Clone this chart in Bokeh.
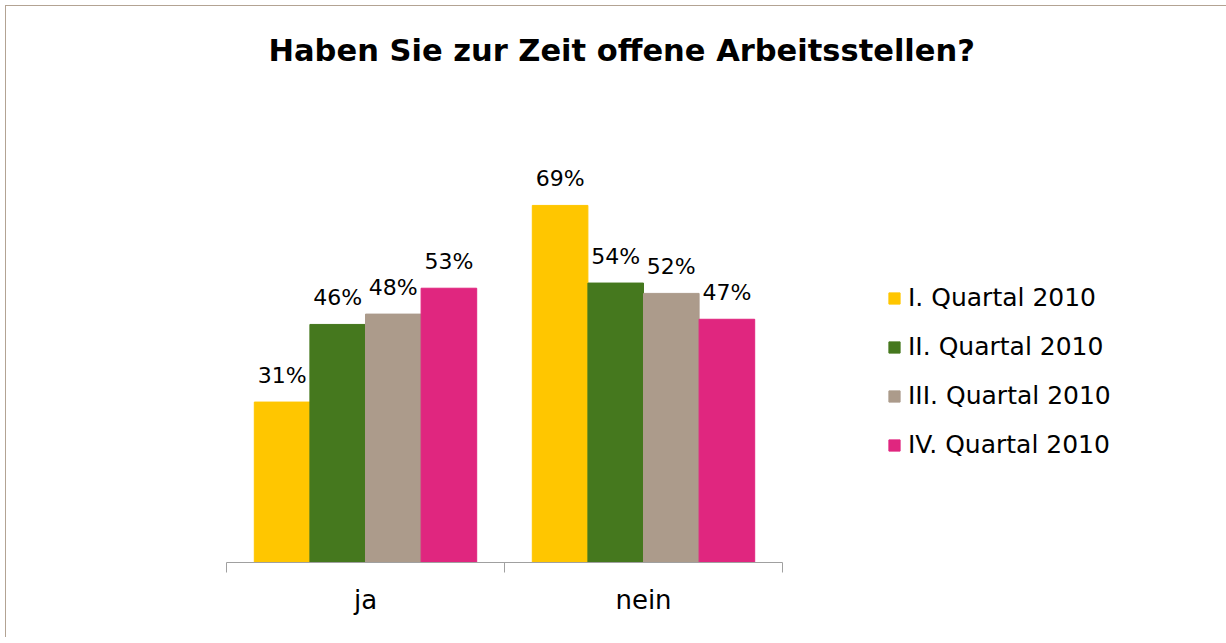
from bokeh.plotting import figure
from bokeh.models import (Range1d, ColumnDataSource, LinearAxis, FixedTicker, Legend, LegendItem, Title)
from bokeh.transform import dodge
from bokeh.core.properties import value
from bokeh.embed import file_html
from bokeh.resources import INLINE

title_text = "Haben Sie zur Zeit offene Arbeitsstellen?"
categories = ["ja", "nein"]
series_names = ["I. Quartal 2010", "II. Quartal 2010", "III. Quartal 2010", "IV. Quartal 2010"]
q1 = [31, 69]
q2 = [46, 54]
q3 = [48, 52]
q4 = [53, 47]
series_values = [q1, q2, q3, q4]
colors = ["#FFC600", "#45781E", "#AC9B8B", "#E0267F"]

FONT = "DejaVu Sans"

n = len(categories)
centers = [i + 0.5 for i in range(n)]

p = figure(x_range=Range1d(0, n), y_range=Range1d(0, 80),
           frame_width=556, frame_height=414,
           output_backend="svg", toolbar_location=None,
           x_axis_location=None, y_axis_location=None,
           min_border_left=220, min_border_top=142, min_border_bottom=75, min_border_right=10)
p.styles = {"border-top": "1px solid #B3A393", "border-left": "1px solid #B3A393",
            "margin-left": "5px", "margin-top": "5px"}
p.grid.visible = False
p.outline_line_color = None
p.background_fill_color = "white"
p.border_fill_color = "white"

# empty spacer between the frame and the title
p.add_layout(Title(text=" ", text_font_size="1px", standoff=56), "above")

p.title.text = title_text
p.title.text_font = FONT
p.title.text_font_size = "30.5px"
p.title.text_font_style = "bold"
p.title.text_color = "black"
p.title.align = "left"
p.title.vertical_align = "top"
p.title.offset = 42
p.title.standoff = 40

offsets = [-0.3, -0.1, 0.1, 0.3]
items = []
for name, vals, col, off in zip(series_names, series_values, colors, offsets):
    src = ColumnDataSource(dict(x=centers, v=vals, lbl=[f"{x}%" for x in vals]))
    r = p.vbar(x=dodge("x", off), top="v", width=0.2, source=src,
               fill_color=col, line_color=col)
    p.text(x=dodge("x", off), y="v", text="lbl", source=src,
           text_align="center", text_baseline="alphabetic", y_offset=-27,
           text_font=value(FONT), text_font_size="22px", text_color="black")
    items.append(LegendItem(label=name, renderers=[r]))

xaxis = LinearAxis(ticker=FixedTicker(ticks=centers, minor_ticks=list(range(n + 1))),
                   axis_line_color="#A0A0A0", major_tick_line_color=None,
                   minor_tick_line_color="#A0A0A0", minor_tick_out=10, minor_tick_in=0,
                   major_tick_out=0, major_tick_in=0, major_label_standoff=12,
                   major_label_text_font=FONT, major_label_text_font_size="26px",
                   major_label_text_color="black")
xaxis.major_label_overrides = {c: lab for c, lab in zip(centers, categories)}
p.add_layout(xaxis, "below")

legend = Legend(items=items, location=(105, 103), border_line_color=None,
                background_fill_alpha=0,
                label_text_font=FONT, label_text_font_size="25px", label_text_color="black",
                glyph_width=14, glyph_height=14, label_standoff=7, label_height=26,
                spacing=20, padding=0, margin=0)
p.add_layout(legend, "right")

open("out.html", "w").write(file_html(p, INLINE))
